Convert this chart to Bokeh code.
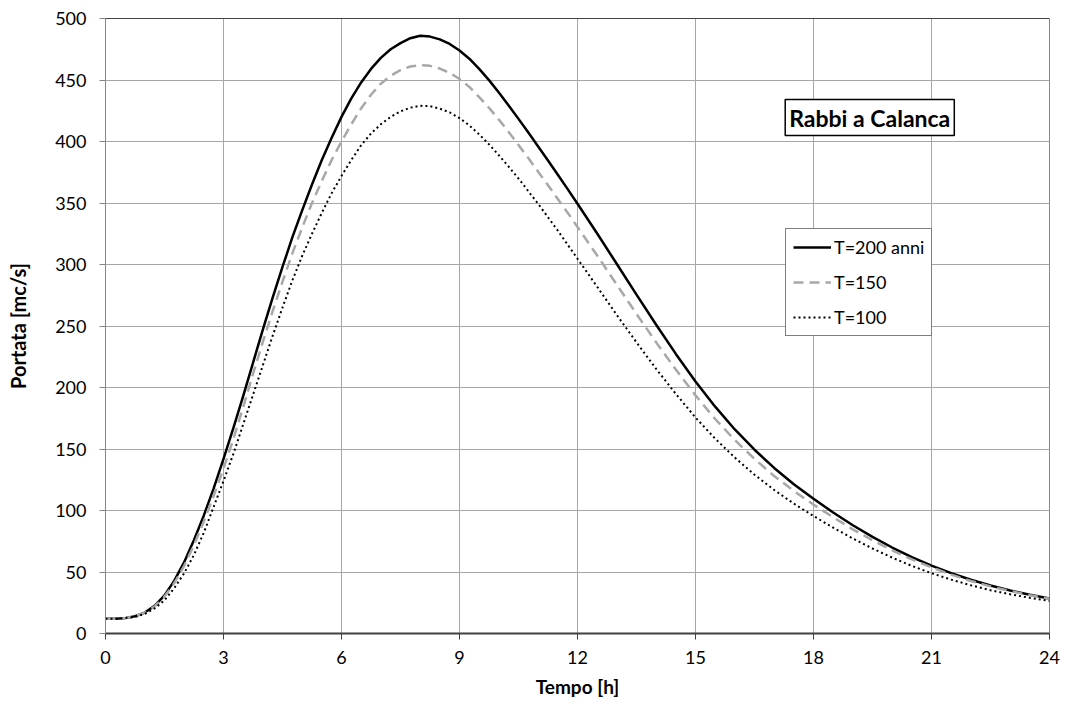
from bokeh.plotting import figure
from bokeh.models import Legend, LegendItem, Label, Span, FixedTicker, Range1d
from bokeh.embed import file_html
from bokeh.resources import INLINE

# time axis [h]: quarter hours up to 12 h, then half hours
t = [0, 0.25, 0.5, 0.75, 1, 1.25, 1.5, 1.75, 2, 2.25, 2.5, 2.75, 3, 3.25, 3.5, 3.75,
     4, 4.25, 4.5, 4.75, 5, 5.25, 5.5, 5.75, 6, 6.25, 6.5, 6.75, 7, 7.25, 7.5, 7.75,
     8, 8.25, 8.5, 8.75, 9, 9.25, 9.5, 9.75, 10, 10.25, 10.5, 10.75, 11, 11.25, 11.5, 11.75,
     12, 12.5, 13, 13.5, 14, 14.5, 15, 15.5, 16, 16.5, 17, 17.5, 18, 18.5, 19, 19.5,
     20, 20.5, 21, 21.5, 22, 22.5, 23, 23.5, 24]
q200 = [12, 12, 12.5, 14, 17, 22.5, 31, 43, 58, 76, 96, 118, 142, 167, 193, 220,
        247, 273, 298, 322, 344, 365, 385, 403, 420, 435, 448, 459, 468, 475, 480, 484,
        486, 485.3, 483, 479.3, 474, 467.3, 459.1, 449.9, 439.8, 429.3, 418.4, 407.3, 396, 384.5, 373, 361.3,
        349.4, 325.2, 300.4, 275.5, 251, 227.3, 204.9, 184.4, 165.9, 149.4, 134.6, 121.4, 109.5, 98.4, 88, 78.5,
        69.9, 62.1, 55.2, 49.1, 43.7, 39, 35, 31.5, 28.5]
q150 = [12, 12, 12.5, 14, 17, 22, 30, 41, 55, 72, 91, 112, 134, 158, 184, 211,
        237, 262, 286, 309, 330, 350, 368, 385, 400, 414, 427, 438, 447, 453.5, 458, 461,
        462, 461.5, 459.3, 455.8, 450.8, 444.4, 436.1, 427.4, 417.8, 407.8, 397.1, 386.5, 375.4, 364.5, 353.2, 342.1,
        330.5, 307.3, 283.6, 259.8, 236.7, 214.6, 193.6, 174.4, 157.3, 141.9, 128.1, 115.9, 104.8, 94.5, 84.7, 75.8,
        67.6, 60.2, 53.7, 47.9, 42.7, 38.3, 34.5, 31.1, 28.2]
q100 = [12, 12, 12.5, 13.5, 16, 20.5, 27, 37, 49, 64, 82, 103, 124, 146, 170, 194,
        218, 242, 265, 287, 307, 325, 342, 358, 372, 385, 397, 406.5, 414, 420, 424.5, 427.5,
        429, 428.7, 426.7, 423.7, 419, 413.1, 405.8, 397.7, 388.8, 379.5, 369.9, 359.6, 349.3, 338.4, 327.5, 316.1,
        304.7, 281.9, 258.9, 236.7, 215.1, 194.8, 175.6, 158.4, 143, 129.1, 116.7, 105.6, 95.5, 86.1, 77.2, 69.1,
        61.7, 55, 49, 43.8, 39.2, 35.2, 31.9, 29, 26.5]
series_labels = ["T=200 anni", "T=150", "T=100"]
chart_title = "Rabbi a Calanca"
x_title = "Tempo [h]"
y_title = "Portata [mc/s]"
xticks = [0, 3, 6, 9, 12, 15, 18, 21, 24]
yticks = [0, 50, 100, 150, 200, 250, 300, 350, 400, 450, 500]

FONT = "Lato"

p = figure(width=1066, height=704, output_backend="svg", toolbar_location=None,
           x_range=Range1d(0, 24), y_range=Range1d(0, 500),
           min_border_left=105, min_border_right=17, min_border_top=18, min_border_bottom=71)
p.background_fill_color = "white"
p.border_fill_color = "white"
p.outline_line_color = "#868686"

for ax in (p.xaxis[0], p.yaxis[0]):
    ax.major_label_text_font = FONT
    ax.major_label_text_font_size = "18px"
    ax.major_label_text_color = "#000000"
    ax.axis_label_text_font = FONT
    ax.axis_label_text_font_style = "bold"
    ax.axis_label_text_color = "#000000"
    ax.minor_tick_line_color = None
    ax.major_tick_in = 0
    ax.major_tick_out = 6
    ax.major_tick_line_color = "#868686"

p.xaxis.ticker = FixedTicker(ticks=xticks)
p.yaxis.ticker = FixedTicker(ticks=yticks)
p.xaxis.axis_label = x_title
p.yaxis.axis_label = y_title
p.xaxis.axis_label_text_font_size = "19px"
p.yaxis.axis_label_text_font_size = "20px"
p.xaxis.axis_line_color = "#404040"
p.xaxis.axis_line_width = 2
p.xaxis.major_tick_line_color = "#404040"
p.yaxis.axis_line_color = "#868686"
p.xaxis.major_label_standoff = 11
p.yaxis.major_label_standoff = 13
p.xaxis.axis_label_standoff = 8
p.yaxis.axis_label_standoff = 22

p.xgrid.ticker = FixedTicker(ticks=xticks)
p.ygrid.ticker = FixedTicker(ticks=yticks)
p.xgrid.grid_line_color = "#a6a6a6"
p.ygrid.grid_line_color = "#a6a6a6"

p.add_layout(Span(location=500, dimension="width", line_color="#000000", line_width=1))

r1 = p.line(t, q200, line_color="#000000", line_width=2.5, line_join="round")
r2 = p.line(t, q150, line_color="#a8a8a8", line_width=2.5, line_dash="10 6", line_join="round")
r3 = p.line(t, q100, line_color="#000000", line_width=2, line_dash="2 3", line_join="round")

legend = Legend(items=[LegendItem(label=series_labels[0], renderers=[r1]),
                       LegendItem(label=series_labels[1], renderers=[r2]),
                       LegendItem(label=series_labels[2], renderers=[r3])],
                location=(680, 297), orientation="vertical")
legend.label_text_font = FONT
legend.label_text_font_size = "18px"
legend.label_text_color = "#000000"
legend.border_line_color = "#000000"
legend.border_line_width = 1
legend.background_fill_alpha = 1
legend.glyph_width = 38
legend.glyph_height = 20
legend.label_height = 20
legend.label_standoff = 3
legend.spacing = 13
legend.padding = 7
legend.margin = 0
p.add_layout(legend)

title = Label(x=19.43, y=419.5, text=chart_title, text_align="center", text_baseline="middle",
              text_font=FONT, text_font_size="23px", text_font_style="bold", text_color="#000000",
              border_line_color="#000000", border_line_width=1.5, background_fill_color="white",
              padding=4)
p.add_layout(title)

open("out.html", "w").write(file_html(p, INLINE))
